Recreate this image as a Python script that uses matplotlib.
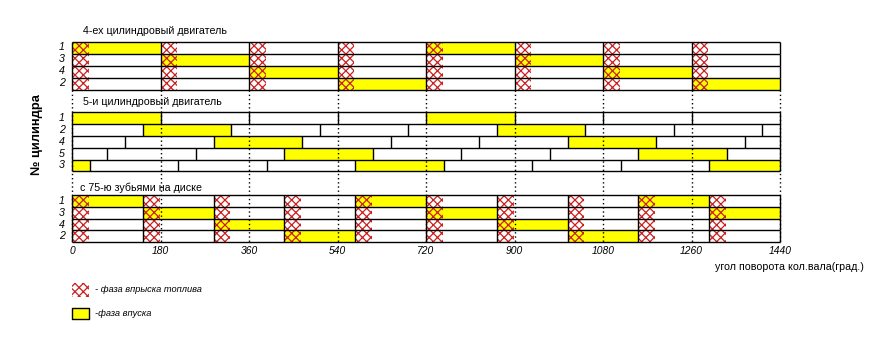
import matplotlib
matplotlib.use("Agg")
import matplotlib.pyplot as plt

plt.rcParams['font.family'] = ['Liberation Sans', 'DejaVu Sans']
plt.rcParams['hatch.linewidth'] = 0.9

# ---------------- data ----------------
ticks = [0, 180, 360, 540, 720, 900, 1080, 1260, 1440]
tick_labels = ["0", "180", "360", "540", "720", "900", "1080", "1260", "1440"]

# 4-cylinder engine
cyl4_labels = ["1", "3", "4", "2"]
cyl4_bounds = [0, 180, 360, 540, 720, 900, 1080, 1260, 1440]
cyl4_intake = [[(0, 180), (720, 900)],
               [(180, 360), (900, 1080)],
               [(360, 540), (1080, 1260)],
               [(540, 720), (1260, 1440)]]
cyl4_injection = [0, 180, 360, 540, 720, 900, 1080, 1260]

# 5-cylinder engine
cyl5_labels = ["1", "2", "4", "5", "3"]
cyl5_bounds = [[0, 180, 360, 540, 720, 900, 1080, 1260, 1440],
               [0, 144, 324, 504, 684, 864, 1044, 1224, 1404, 1440],
               [0, 108, 288, 468, 648, 828, 1008, 1188, 1368, 1440],
               [0, 72, 252, 432, 612, 792, 972, 1152, 1332, 1440],
               [0, 36, 216, 396, 576, 756, 936, 1116, 1296, 1440]]
cyl5_intake = [[(0, 180), (720, 900)],
               [(144, 324), (864, 1044)],
               [(288, 468), (1008, 1188)],
               [(432, 612), (1152, 1332)],
               [(0, 36), (576, 756), (1296, 1440)]]

# 75-tooth disk
disk_labels = ["1", "3", "4", "2"]
disk_bounds = [0, 144, 288, 432, 576, 720, 864, 1008, 1152, 1296, 1440]
disk_intake = [[(0, 144), (576, 720), (1152, 1296)],
               [(144, 288), (720, 864), (1296, 1440)],
               [(288, 432), (864, 1008)],
               [(432, 576), (1008, 1152)]]
disk_injection = [0, 144, 288, 432, 576, 720, 864, 1008, 1152, 1296]

injection_len = 34

# ---------------- layout ----------------
W, H = 888, 343
PX0, PX1 = 72, 780          # pixel x of 0 and 1440 degrees
scale = (PX1 - PX0) / 1440.0

def px(xp):
    return (xp - PX0) / scale

fig = plt.figure(figsize=(W / 100, H / 100), dpi=100)
ax = fig.add_axes([0, 0, 1, 1])
ax.set_xlim(px(0), px(W))
ax.set_ylim(H, 0)
ax.axis('off')

YELLOW = '#ffff00'
RED = '#cc2020'
LW = 1.0
FS = 7.7
HATCH = 'xxxx'

def draw_section(top, rh, labels, bounds_list, intake, injection):
    n = len(labels)
    for i in range(n):
        y = top + i * rh
        ax.broken_barh([(a, b - a) for a, b in intake[i]], (y, rh),
                       facecolors=YELLOW, edgecolors='none', zorder=1)
        if injection is not None:
            ax.broken_barh([(s, injection_len) for s in injection], (y, rh),
                           facecolors='none', edgecolors=RED, hatch=HATCH,
                           linewidths=0, zorder=2)
        bnds = bounds_list[i]
        ax.vlines(bnds, y, y + rh, colors='black', lw=LW, zorder=4)
        ax.text(px(62), y + rh / 2, labels[i], ha='center', va='center',
                fontsize=FS, style='italic')
    for i in range(n + 1):
        ax.hlines(top + i * rh, 0, 1440, colors='black', lw=LW, zorder=4)

draw_section(41.5, 12.0, cyl4_labels, [cyl4_bounds] * 4, cyl4_intake, cyl4_injection)
draw_section(112.3, 11.8, cyl5_labels, cyl5_bounds, cyl5_intake, None)
draw_section(195.3, 11.7, disk_labels, [disk_bounds] * 4, disk_intake, disk_injection)

# dotted guides
ax.vlines(ticks, 89.5, 243.5, colors='black', lw=1.0, linestyles=(0, (1.0, 2.0)), zorder=5)

# section titles
ax.text(px(83), 31.5, "4-ех цилиндровый двигатель", fontsize=FS, va='center', ha='left')
ax.text(px(83), 101.8, "5-и цилиндровый двигатель", fontsize=FS, va='center', ha='left')
ax.text(px(80), 188, "с 75-ю зубьями на диске", fontsize=FS, va='center', ha='left')

# tick labels
for t, lab in zip(ticks, tick_labels):
    ax.text(t, 250.5, lab, fontsize=FS - 0.3, style='italic', ha='center', va='center')

ax.text(px(715), 267, "угол поворота кол.вала(град.)", fontsize=FS, ha='left', va='center')

# y label
ax.text(px(37), 135, "№ цилиндра", fontsize=9.3, fontweight='bold',
        rotation=90, ha='center', va='center')

# legend
ax.broken_barh([(px(72), px(89) - px(72))], (283, 13.5), facecolors='none',
               edgecolors=RED, hatch=HATCH, linewidths=0)
ax.text(px(95), 290, "- фаза впрыска топлива", fontsize=FS - 1.0, style='italic',
        ha='left', va='center')
ax.broken_barh([(px(72), px(89) - px(72))], (307.7, 11.6), facecolors=YELLOW,
               edgecolors='black', linewidths=1.0)
ax.text(px(95), 313.5, "-фаза впуска", fontsize=FS - 1.0, style='italic',
        ha='left', va='center')

fig.savefig("out.png", dpi=100)
